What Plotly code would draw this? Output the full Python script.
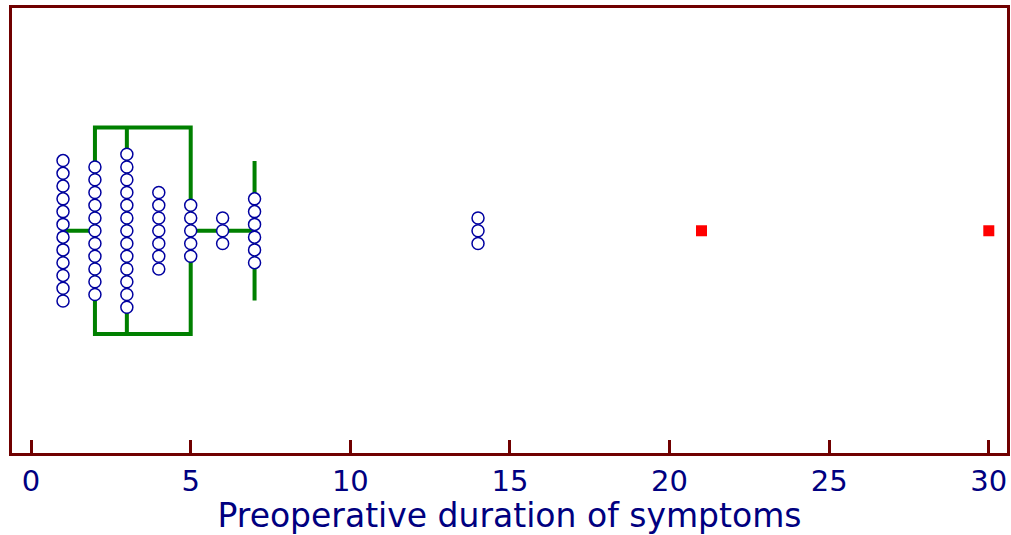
import plotly.graph_objects as go

# ---- data ----
dot_values = [1, 2, 3, 4, 5, 6, 7, 14]
dot_counts = [12, 11, 13, 7, 5, 3, 6, 3]
far_outliers = [21, 30]
box_q1 = [2]
box_median = [3]
box_q3 = [5]
box_lowerfence = [1]
box_upperfence = [7]
tick_vals = [0, 5, 10, 15, 20, 25, 30]
tick_text = ["0", "5", "10", "15", "20", "25", "30"]
x_title = "Preoperative duration of symptoms"

# stacked-dot offsets
dx, dy = [], []
for v, n in zip(dot_values, dot_counts):
    for k in range(n):
        dx.append(v)
        dy.append((n - 1) / 2 - k)

FRAME = "#700000"
GREEN = "#008000"
NAVY = "#000080"
FONT = "DejaVu Sans"

fig = go.Figure()
fig.add_trace(go.Box(
    y=[0], q1=box_q1, median=box_median, q3=box_q3,
    lowerfence=box_lowerfence, upperfence=box_upperfence,
    orientation="h", boxpoints=False,
    width=16.2, whiskerwidth=0.675,
    line=dict(color=GREEN, width=4), fillcolor="rgba(0,0,0,0)",
    hoverinfo="skip", showlegend=False,
))
fig.add_trace(go.Scatter(
    x=dx, y=dy, mode="markers", showlegend=False,
    marker=dict(symbol="circle", size=12, color="white",
                line=dict(color="#0000A0", width=1.5)),
))
fig.add_trace(go.Scatter(
    x=far_outliers, y=[0] * len(far_outliers), mode="markers", showlegend=False,
    marker=dict(symbol="square", size=11, color="#FF0000", line=dict(width=0)),
))

fig.update_layout(
    width=1011, height=535,
    margin=dict(l=12, r=4, t=8, b=82),
    paper_bgcolor="white", plot_bgcolor="white",
    font=dict(family=FONT, color=NAVY),
    xaxis=dict(
        range=[-0.598, 30.57], tickvals=tick_vals, ticktext=tick_text,
        ticks="inside", ticklen=13, tickwidth=3, tickcolor=FRAME,
        showline=True, linecolor=FRAME, linewidth=3, mirror=True,
        showgrid=False, zeroline=False, automargin=False,
        tickfont=dict(family=FONT, size=29, color=NAVY),
        title=dict(text=x_title, font=dict(family=FONT, size=33, color=NAVY), standoff=19),
    ),
    yaxis=dict(
        range=[-17.42, 17.46], showticklabels=False, ticks="",
        showline=True, linecolor=FRAME, linewidth=3, mirror=True,
        showgrid=False, zeroline=False, automargin=False,
    ),
)

fig.write_html(
    "out.html",
    config={"displayModeBar": False},
    post_script="document.body.style.margin='0';document.body.style.overflow='hidden';",
)
